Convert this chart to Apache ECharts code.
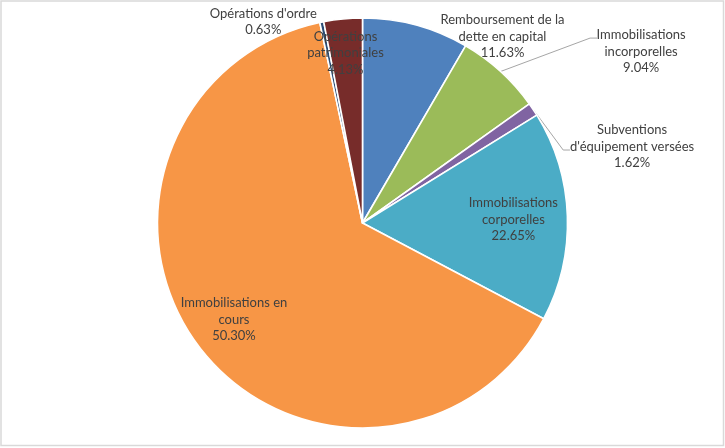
<!DOCTYPE html>
<html>
<head>
<meta charset="utf-8">
<script src="https://cdn.jsdelivr.net/npm/echarts@6/dist/echarts.min.js"></script>
<style>
html,body{margin:0;padding:0;background:#fff;}
#chart{width:725px;height:448px;}
</style>
</head>
<body>
<div id="chart"></div>
<script>
// Categories (clockwise from 12 o'clock)
const categories = [
  'Remboursement de la\ndette en capital',
  'Immobilisations\nincorporelles',
  'Subventions\nd\'équipement versées',
  'Immobilisations\ncorporelles',
  'Immobilisations en\ncours',
  'Opérations d\'ordre',
  'Opérations\npatrimoniales'
];
// Slice sizes as drawn in the picture (share of the circle, %)
const sliceValues = [8.39, 6.75, 1.05, 16.55, 63.94, 0.31, 3.03];
// Percent texts printed on the labels
const percentLabels = ['11.63%', '9.04%', '1.62%', '22.65%', '50.30%', '0.63%', '4.13%'];

const colors = ['#4F81BD', '#9BBB59', '#8064A2', '#4BACC6', '#F79646', '#2C4D75', '#772C2A'];

// Layout: pie geometry and label placement (in radius units relative to centre)
const CX = 362.5, CY = 223, R = 205;
const labelOffsets = [
  [0.683, -0.909], [1.359, -0.836], [1.315, -0.372], [0.736, -0.017],
  [-0.627, 0.471], [-0.484, -0.982], [-0.083, -0.828]
];
// leader line bend / end points (radius units) for items that have one
const leaderLines = {
  1: [[1.110, -0.902], [1.144, -0.902]],
  2: [[0.979, -0.356], [1.012, -0.356]]
};

const total = sliceValues.reduce((a, b) => a + b, 0);
function midAngle(i) {
  let acc = 0;
  for (let k = 0; k < i; k++) acc += sliceValues[k];
  return ((acc + sliceValues[i] / 2) / total) * 2 * Math.PI;
}

const data = categories.map((name, i) => ({
  name: name,
  value: sliceValues[i],
  itemStyle: { color: colors[i] },
  labelLine: { show: !!leaderLines[i] }
}));

const chart = echarts.init(document.getElementById('chart'), null, { renderer: 'canvas' });
chart.setOption({
  animation: false,
  backgroundColor: '#fff',
  graphic: [{
    type: 'rect',
    shape: { x: 1, y: 1, width: 722.5, height: 444.5 },
    style: { fill: 'none', stroke: '#D9D9D9', lineWidth: 1.5 },
    silent: true
  }],
  series: [{
    type: 'pie',
    center: [CX, CY],
    radius: R,
    startAngle: 90,
    clockwise: true,
    avoidLabelOverlap: false,
    data: data,
    itemStyle: { borderColor: '#ffffff', borderWidth: 1.6 },
    label: {
      show: true,
      position: 'outside',
      color: '#404040',
      fontFamily: 'Lato, "Liberation Sans", sans-serif',
      fontSize: 13,
      lineHeight: 16.5,
      align: 'center',
      formatter: function (p) { return p.name + '\n' + percentLabels[p.dataIndex]; }
    },
    labelLine: {
      show: true,
      length: 10,
      length2: 10,
      lineStyle: { color: '#A6A6A6', width: 1 }
    },
    labelLayout: function (params) {
      const i = params.dataIndex;
      const off = labelOffsets[i];
      const res = {
        x: CX + off[0] * R,
        y: CY + off[1] * R,
        align: 'center',
        verticalAlign: 'middle'
      };
      if (leaderLines[i]) {
        const a = midAngle(i);
        const start = [CX + R * Math.sin(a), CY - R * Math.cos(a)];
        res.labelLinePoints = [start].concat(leaderLines[i].map(p => [CX + p[0] * R, CY + p[1] * R]));
      }
      return res;
    },
    emphasis: { disabled: true }
  }]
});
</script>
</body>
</html>
